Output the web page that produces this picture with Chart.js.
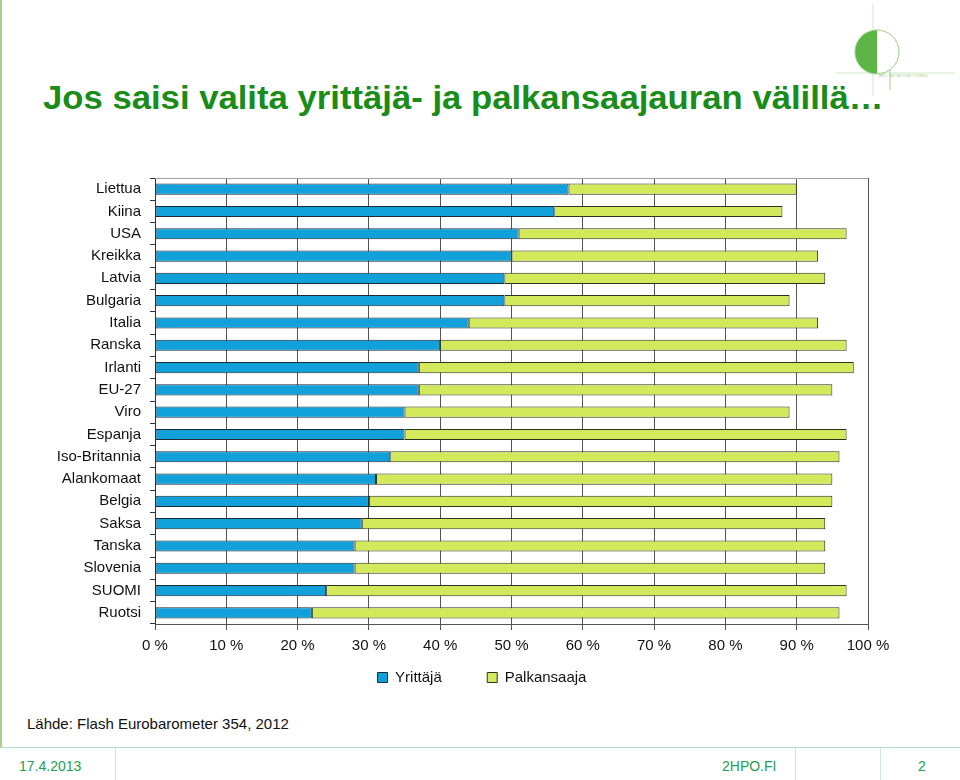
<!DOCTYPE html>
<html>
<head>
<meta charset="utf-8">
<script src="https://cdn.jsdelivr.net/npm/chart.js@4.4.1/dist/chart.umd.min.js"></script>
<style>
  body { margin: 0; width: 960px; height: 780px; background: #fff; position: relative; overflow: hidden;
         font-family: "Liberation Sans", Arial, sans-serif; }
  .leftline { position: absolute; left: 0; top: 0; width: 2px; height: 747px; background: #a9d18e; }
  h1 { position: absolute; left: 43px; top: 80px; margin: 0; font-size: 34px; line-height: 34px; font-weight: bold;
       color: #198c19; white-space: nowrap; transform-origin: left top; transform: scaleX(1.02); }
  .chartbox { position: absolute; left: 0; top: 160px; width: 910px; height: 535px; }
  .source { position: absolute; left: 27px; top: 715px; font-size: 15px; color: #111; }
  .footline { position: absolute; left: 0; top: 747px; width: 960px; height: 1px; background: #b6dcc0; }
  .vsep { position: absolute; top: 748px; width: 1px; height: 32px; background: #cde8d5; }
  .foot { position: absolute; top: 758px; font-size: 14px; color: #22a050; }
</style>
</head>
<body>
<div class="leftline"></div>
<svg style="position:absolute;left:830px;top:0" width="130" height="100">
  <line x1="43" y1="4" x2="43" y2="96" stroke="#cfe6c8" stroke-width="1"/>
  <line x1="5" y1="73" x2="125" y2="73" stroke="#cfe6c8" stroke-width="1"/>
  <path d="M47 30 A22 22 0 0 0 47 74 Z" fill="#5cb545"/>
  <circle cx="47" cy="52" r="22" fill="none" stroke="#9ccc8a" stroke-width="1"/>
  <line x1="60" y1="70" x2="60" y2="90" stroke="#9ccc8a" stroke-width="1"/>
  <text x="48" y="77" font-size="3" fill="#9ccc8a">2HPO - YRITTÄJYYDEN TUTKIMUS</text>
</svg>
<h1>Jos saisi valita yrittäjä- ja palkansaajauran välillä…</h1>
<div class="chartbox"><canvas id="graph"></canvas></div>
<div class="source">Lähde: Flash Eurobarometer 354, 2012</div>
<div class="footline"></div>
<div class="vsep" style="left:115px"></div>
<div class="vsep" style="left:795px"></div>
<div class="vsep" style="left:880px"></div>
<div class="foot" style="left:19px">17.4.2013</div>
<div class="foot" style="left:722px">2HPO.FI</div>
<div class="foot" style="left:918px">2</div>

<script>
// Countries from top to bottom
let countries = ["Liettua", "Kiina", "USA", "Kreikka", "Latvia", "Bulgaria", "Italia", "Ranska", "Irlanti",
    "EU-27", "Viro", "Espanja", "Iso-Britannia", "Alankomaat", "Belgia", "Saksa", "Tanska", "Slovenia",
    "SUOMI", "Ruotsi"];

// Share who would choose self-employment (%)
let yrittaja = [58, 56, 51, 50, 49, 49, 44, 40, 37, 37, 35, 35, 33, 31, 30, 29, 28, 28, 24, 22];

// Share who would choose to be an employee (%)
let palkansaaja = [32, 32, 46, 43, 45, 40, 49, 57, 61, 58, 54, 62, 63, 64, 65, 65, 66, 66, 73, 74];

let xTicks = [0, 10, 20, 30, 40, 50, 60, 70, 80, 90, 100];

let labelFont = { family: "'Liberation Sans', Arial, sans-serif", size: 15 };

// Draws the grey frame on the top edge of the plot
let framePlugin = {
    id: "frame",
    afterDraw(chart) {
        let a = chart.chartArea;
        let ctx = chart.ctx;
        ctx.save();
        ctx.strokeStyle = "#a0a0a0";
        ctx.lineWidth = 1;
        ctx.beginPath();
        ctx.moveTo(a.left, a.top + 0.5);
        ctx.lineTo(a.right, a.top + 0.5);
        ctx.stroke();
        ctx.restore();
    }
};

// Moves the legend a bit to the right, where the original has it
let legendShift = {
    id: "legendShift",
    afterLayout(chart) {
        chart.legend.left += 48;
        chart.legend.right += 48;
    }
};

let ctx = document.getElementById("graph");
let chart = new Chart(ctx, {
    type: "bar",
    data: {
        labels: countries,
        datasets: [{
            label: "Yrittäjä",
            data: yrittaja,
            backgroundColor: "#11a0da",
            borderColor: "#1b2a33",
            borderWidth: 1,
            borderSkipped: false
        }, {
            label: "Palkansaaja",
            data: palkansaaja,
            backgroundColor: "#d3e95c",
            borderColor: "#2e3320",
            borderWidth: 1,
            borderSkipped: false
        }]
    },
    options: {
        indexAxis: "y",
        responsive: true,
        maintainAspectRatio: false,
        animation: false,
        datasets: { bar: { categoryPercentage: 1, barPercentage: 0.5 } },
        layout: { padding: { top: 0, right: 42, left: 0, bottom: 0 } },
        scales: {
            x: {
                stacked: true,
                min: 0,
                max: 100,
                afterBuildTicks(scale) {
                    scale.ticks = xTicks.map(v => ({ value: v }));
                },
                ticks: {
                    callback: v => v + " %",
                    color: "#111",
                    font: labelFont,
                    padding: 7,
                    maxRotation: 0
                },
                grid: { color: "#555", lineWidth: 1, tickLength: 6, tickColor: "#555" },
                border: { color: "#555" }
            },
            y: {
                stacked: true,
                afterFit(scale) { scale.width = 155; },
                ticks: { color: "#111", font: labelFont, padding: 9, autoSkip: false },
                grid: { offset: true, drawOnChartArea: false, tickLength: 5, tickColor: "#333" },
                border: { color: "#333" }
            }
        },
        plugins: {
            legend: {
                position: "bottom",
                labels: {
                    color: "#111",
                    font: labelFont,
                    boxWidth: 10,
                    boxHeight: 10,
                    padding: 8,
                    // widen the gap after the first entry, as in the original legend
                    generateLabels(chart) {
                        let items = Chart.defaults.plugins.legend.labels.generateLabels(chart);
                        items[0].text = items[0].text + "\u2003\u2003\u2002";
                        return items;
                    }
                }
            },
            tooltip: { enabled: false }
        }
    },
    plugins: [framePlugin, legendShift]
});
</script>
</body>
</html>
